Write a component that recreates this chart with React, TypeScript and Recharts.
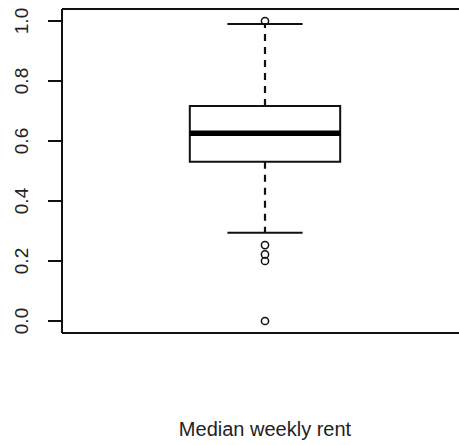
import React from 'react';
import {
  ComposedChart,
  XAxis,
  YAxis,
  Scatter,
  ReferenceArea,
  ReferenceLine,
} from 'recharts';

// one box: Median weekly rent (normalised 0..1)
const boxCenter = 1;
const boxHalfWidth = 0.2;
const capHalfWidth = 0.1;
const q1 = 0.531;
const median = 0.626;
const q3 = 0.717;
const whiskerLow = 0.294;
const whiskerHigh = 0.99;
const outliers = [1.0, 0.253, 0.222, 0.2, 0.0];

const yTicks = [0, 0.2, 0.4, 0.6, 0.8, 1.0];
const xLabel = 'Median weekly rent';

const xDomain = [0.46, 1.54];
const yDomain = [-0.04, 1.04];

const outlierData = outliers.map((v) => ({ x: boxCenter, y: v }));

const font = '"Liberation Sans", Arial, sans-serif';

const YTick = (props: any) => {
  const { x, y, payload } = props;
  return (
    <text
      x={x}
      y={y}
      transform={`rotate(-90, ${x}, ${y})`}
      textAnchor="middle"
      fontSize={19}
      fontFamily={font}
      fill="#222"
    >
      {payload.value.toFixed(1)}
    </text>
  );
};

const XLabel = (props: any) => {
  const { viewBox } = props;
  return (
    <text
      x={viewBox.x + viewBox.width / 2}
      y={436}
      textAnchor="middle"
      fontSize={20}
      fontFamily={font}
      fill="#222"
    >
      {xLabel}
    </text>
  );
};

const OpenCircle = (props: any) => {
  const { cx, cy } = props;
  return <circle cx={cx} cy={cy} r={3.6} fill="none" stroke="#111" strokeWidth={1.5} />;
};

export default function App() {
  return (
    <div
      style={{
        position: 'absolute',
        left: 0,
        top: 0,
        width: 459,
        height: 445,
        overflow: 'hidden',
        background: '#fff',
      }}
    >
      <ComposedChart width={470} height={445} margin={{ top: 9, right: 2, bottom: 0, left: 0 }}>
        <XAxis
          dataKey="x"
          type="number"
          domain={xDomain}
          allowDataOverflow
          tick={false}
          tickLine={false}
          axisLine={false}
          height={112}
          label={<XLabel />}
        />
        <YAxis
          dataKey="y"
          type="number"
          domain={yDomain}
          allowDataOverflow
          ticks={yTicks}
          width={62}
          tickSize={14}
          tickMargin={20}
          axisLine={false}
          tickLine={{ stroke: '#111', strokeWidth: 2 }}
          tick={<YTick />}
        />
        {/* plot frame (right side falls outside the picture) */}
        <ReferenceLine
          segment={[{ x: xDomain[0], y: yDomain[1] }, { x: xDomain[1], y: yDomain[1] }]}
          stroke="#111"
          strokeWidth={2}
        />
        <ReferenceLine
          segment={[{ x: xDomain[0], y: yDomain[0] }, { x: xDomain[1], y: yDomain[0] }]}
          stroke="#111"
          strokeWidth={2}
        />
        <ReferenceLine
          segment={[{ x: xDomain[0], y: yDomain[0] }, { x: xDomain[0], y: yDomain[1] }]}
          stroke="#111"
          strokeWidth={2}
        />
        {/* box */}
        <ReferenceArea
          x1={boxCenter - boxHalfWidth}
          x2={boxCenter + boxHalfWidth}
          y1={q1}
          y2={q3}
          fill="#fff"
          fillOpacity={1}
          stroke="#111"
          strokeWidth={2}
        />
        {/* whiskers */}
        <ReferenceLine
          segment={[{ x: boxCenter, y: q3 }, { x: boxCenter, y: whiskerHigh }]}
          stroke="#111"
          strokeWidth={2.2}
          strokeDasharray="7 6"
        />
        <ReferenceLine
          segment={[{ x: boxCenter, y: q1 }, { x: boxCenter, y: whiskerLow }]}
          stroke="#111"
          strokeWidth={2.2}
          strokeDasharray="7 6"
        />
        <ReferenceLine
          segment={[{ x: boxCenter - capHalfWidth, y: whiskerHigh }, { x: boxCenter + capHalfWidth, y: whiskerHigh }]}
          stroke="#111"
          strokeWidth={2}
        />
        <ReferenceLine
          segment={[{ x: boxCenter - capHalfWidth, y: whiskerLow }, { x: boxCenter + capHalfWidth, y: whiskerLow }]}
          stroke="#111"
          strokeWidth={2}
        />
        {/* median */}
        <ReferenceLine
          segment={[{ x: boxCenter - boxHalfWidth, y: median }, { x: boxCenter + boxHalfWidth, y: median }]}
          stroke="#000"
          strokeWidth={5.5}
        />
        <Scatter data={outlierData} dataKey="y" shape={<OpenCircle />} isAnimationActive={false} />
      </ComposedChart>
    </div>
  );
}
